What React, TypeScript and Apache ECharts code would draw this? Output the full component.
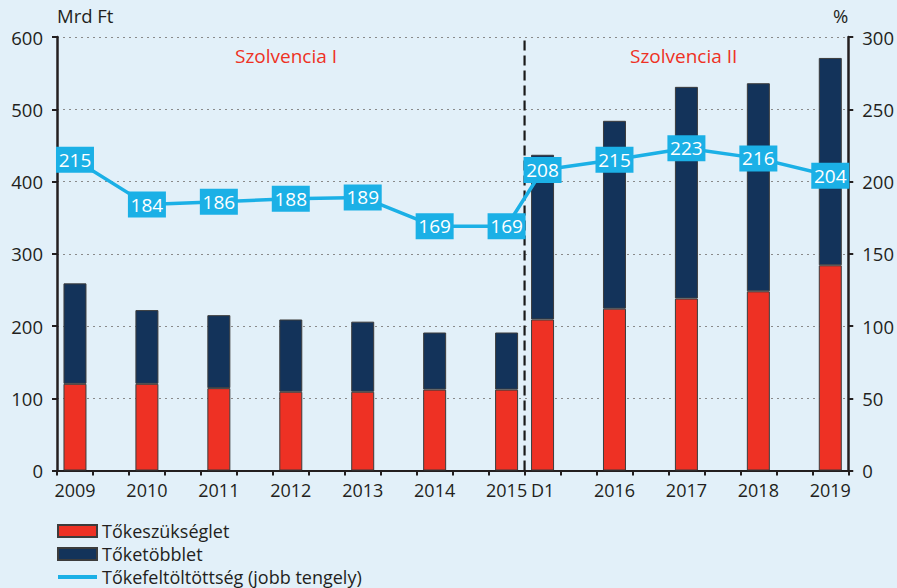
import React, { useEffect, useRef } from "react";
import * as echarts from "echarts";

const categories = ["2009", "", "2010", "", "2011", "", "2012", "", "2013", "", "2014", "", "2015", "D1", "", "2016", "", "2017", "", "2018", "", "2019"];
const requirement = [120, null, 120, null, 114, null, 109, null, 109, null, 112, null, 112, 209, null, 224, null, 238, null, 248, null, 284];
const surplus = [139, null, 102, null, 101, null, 100, null, 97, null, 79, null, 79, 228, null, 260, null, 293, null, 288, null, 287];
const ratio = [215, null, 184, null, 186, null, 188, null, 189, null, 169, null, 169, 208, null, 215, null, 223, null, 216, null, 204];
const leftTicks = { min: 0, max: 600, interval: 100 };
const rightTicks = { min: 0, max: 300, interval: 50 };
const regimeLabels = ["Szolvencia I", "Szolvencia II"];
const seriesNames = ["Tőkeszükséglet", "Tőketöbblet", "Tőkefeltöltöttség (jobb tengely)"];

const FONT = "'Open Sans', 'Noto Sans', sans-serif";
const TXT = "#231f20";
const RED = "#ee3124";
const NAVY = "#13335a";
const BLUE = "#1bb0e6";
const BG = "#e2f0f9";
const FS = 18.5;

export default function App() {
  const ref = useRef<HTMLDivElement>(null);
  useEffect(() => {
    if (!ref.current) return;
    const chart = echarts.init(ref.current, null, { renderer: "svg" });
    const splitIdx = categories.indexOf("D1");
    const option: any = {
      animation: false,
      backgroundColor: BG,
      textStyle: { fontFamily: FONT, color: TXT },
      grid: { left: 57, right: 48, top: 37, bottom: 117.5, containLabel: false },
      legend: {
        orient: "vertical",
        left: 57,
        top: 520,
        height: 120,
        padding: 0,
        itemWidth: 39,
        itemHeight: 12,
        itemGap: 1,
        selectedMode: false,
        textStyle: { fontFamily: FONT, fontSize: 18, color: TXT, lineHeight: 22 },
        data: [
          { name: seriesNames[0], icon: "rect" },
          { name: seriesNames[1], icon: "rect" },
          { name: seriesNames[2], icon: "path://M0,0H40V4H0Z" },
        ],
      },
      xAxis: [
        {
          type: "category",
          data: categories,
          boundaryGap: true,
          axisLine: { lineStyle: { color: TXT, width: 2 } },
          axisTick: { show: true, interval: 0, length: 5, lineStyle: { color: TXT, width: 2 } },
          axisLabel: { interval: 0, fontSize: 18, color: TXT, fontFamily: FONT, margin: 10 },
        },
        { type: "value", min: 0, max: categories.length, show: false },
      ],
      yAxis: [
        {
          type: "value",
          ...leftTicks,
          name: "Mrd Ft",
          nameLocation: "end",
          nameGap: 12,
          nameTextStyle: { align: "left", fontSize: FS, color: TXT, fontFamily: FONT },
          axisLine: { show: true, lineStyle: { color: TXT, width: 2.5 } },
          axisTick: { show: true, length: 5, lineStyle: { color: TXT, width: 2 } },
          axisLabel: { fontSize: FS, color: TXT, fontFamily: FONT, margin: 14 },
          splitLine: { show: true, lineStyle: { color: "#8a8a8a", type: [2, 4], width: 1.2 } },
        },
        {
          type: "value",
          ...rightTicks,
          name: "%",
          nameLocation: "end",
          nameGap: 12,
          nameTextStyle: { align: "right", fontSize: FS, color: TXT, fontFamily: FONT },
          axisLine: { show: true, lineStyle: { color: TXT, width: 2.5 } },
          axisTick: { show: true, length: 5, lineStyle: { color: TXT, width: 2 } },
          axisLabel: { fontSize: FS, color: TXT, fontFamily: FONT, margin: 14 },
          splitLine: { show: false },
        },
      ],
      series: [
        {
          name: seriesNames[0],
          type: "bar",
          stack: "capital",
          data: requirement,
          barWidth: 23,
          itemStyle: { color: RED, borderColor: "#3c3c3c", borderWidth: 1 },
          z: 2,
        },
        {
          name: seriesNames[1],
          type: "bar",
          stack: "capital",
          data: surplus,
          barWidth: 23,
          itemStyle: { color: NAVY, borderColor: "#3c3c3c", borderWidth: 1 },
          z: 2,
        },
        {
          name: "divider",
          type: "line",
          xAxisIndex: 1,
          yAxisIndex: 0,
          data: [
            [splitIdx, leftTicks.min],
            [splitIdx, leftTicks.max],
          ],
          symbol: "none",
          silent: true,
          lineStyle: { color: "#1a1a1a", width: 2.2, type: [10, 5] },
          z: 3,
        },
        {
          name: seriesNames[2],
          type: "line",
          yAxisIndex: 1,
          data: ratio,
          connectNulls: true,
          symbol: "rect",
          symbolSize: [38, 26],
          lineStyle: { color: BLUE, width: 3.5 },
          itemStyle: { color: BLUE },
          label: {
            show: true,
            position: "inside",
            color: "#ffffff",
            fontSize: 19,
            fontFamily: FONT,
          },
          z: 5,
        },
      ],
      graphic: [
        {
          type: "text",
          left: 235,
          top: 46,
          style: { text: regimeLabels[0], fill: RED, fontSize: 19, fontFamily: FONT },
        },
        {
          type: "text",
          left: 630,
          top: 46,
          style: { text: regimeLabels[1], fill: RED, fontSize: 19, fontFamily: FONT },
        },
      ],
    };
    chart.setOption(option);
    return () => chart.dispose();
  }, []);
  return (
    <div
      ref={ref}
      style={{ position: "fixed", left: 0, top: 0, width: 897, height: 588, background: BG }}
    />
  );
}
